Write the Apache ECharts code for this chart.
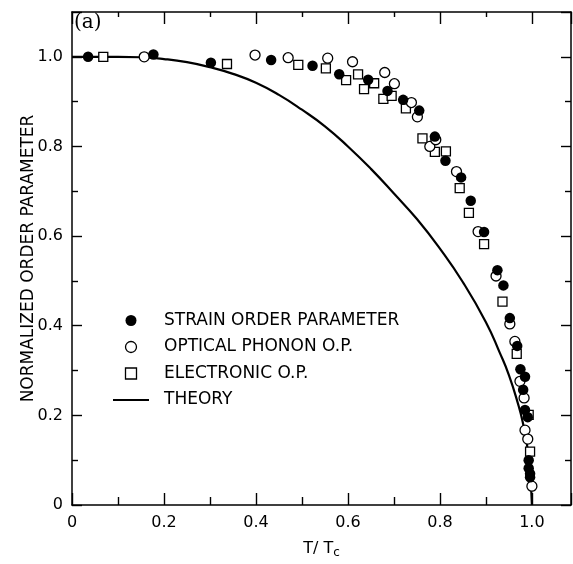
<!DOCTYPE html>
<html>
<head>
<meta charset="utf-8">
<script src="https://cdn.jsdelivr.net/npm/echarts@6/dist/echarts.min.js"></script>
<style>
html,body{margin:0;padding:0;background:#fff;}
#chart{width:573px;height:564px;}
</style>
</head>
<body>
<div id="chart"></div>
<script>
// ---- data ----
var xTickLabels = ['0', '0.2', '0.4', '0.6', '0.8', '1.0'];
var yTickLabels = ['0', '0.2', '0.4', '0.6', '0.8', '1.0'];

var strainX = [0.035, 0.177, 0.302, 0.433, 0.523, 0.581, 0.644, 0.686, 0.720, 0.755, 0.789, 0.812, 0.846, 0.867, 0.896, 0.925, 0.938, 0.952, 0.968, 0.975, 0.985, 0.981, 0.985, 0.991, 0.993, 0.993, 0.996, 0.996];
var strainY = [1.000, 1.005, 0.987, 0.993, 0.980, 0.961, 0.949, 0.924, 0.904, 0.880, 0.822, 0.768, 0.731, 0.679, 0.609, 0.524, 0.490, 0.417, 0.355, 0.303, 0.286, 0.257, 0.212, 0.196, 0.100, 0.082, 0.062, 0.070];

var phononX = [0.157, 0.398, 0.470, 0.556, 0.610, 0.680, 0.701, 0.738, 0.751, 0.778, 0.791, 0.836, 0.883, 0.922, 0.952, 0.963, 0.974, 0.983, 0.985, 0.991, 1.000];
var phononY = [1.000, 1.004, 0.998, 0.997, 0.989, 0.965, 0.940, 0.898, 0.866, 0.800, 0.815, 0.744, 0.610, 0.511, 0.404, 0.365, 0.276, 0.239, 0.167, 0.147, 0.042];

var electronicX = [0.068, 0.337, 0.492, 0.552, 0.596, 0.622, 0.635, 0.657, 0.677, 0.695, 0.726, 0.762, 0.789, 0.813, 0.843, 0.863, 0.896, 0.936, 0.967, 0.993, 0.996];
var electronicY = [1.000, 0.984, 0.982, 0.974, 0.948, 0.961, 0.928, 0.941, 0.906, 0.913, 0.885, 0.818, 0.788, 0.789, 0.707, 0.652, 0.582, 0.454, 0.337, 0.201, 0.119];

var theoryX = [0, 0.10, 0.15, 0.20, 0.25, 0.30, 0.35, 0.40, 0.45, 0.50, 0.55, 0.60, 0.65, 0.70, 0.75, 0.80, 0.85, 0.90, 0.93, 0.95, 0.97, 0.98, 0.99, 0.995, 1.0];
var theoryY = [1.0, 1.0, 0.999, 0.995, 0.988, 0.977, 0.962, 0.942, 0.915, 0.882, 0.845, 0.800, 0.750, 0.695, 0.638, 0.572, 0.497, 0.408, 0.340, 0.290, 0.225, 0.185, 0.130, 0.092, 0.0];

var seriesNames = ['STRAIN ORDER PARAMETER', 'OPTICAL PHONON O.P.', 'ELECTRONIC O.P.', 'THEORY'];

function pairs(xs, ys) { return xs.map(function (x, i) { return [x, ys[i]]; }); }

var FONT = 'DejaVu Sans';
var SQUARE = 'path://M0,0H10V10H0Z';
var chart = echarts.init(document.getElementById('chart'));

function baseX(pos, showLabels) {
  return {
    type: 'value', position: pos, min: 0, max: 1.085, interval: 0.2,
    axisLine: { show: true, onZero: false, lineStyle: { color: '#000', width: 1.5 } },
    axisTick: { show: true, inside: true, length: 12, lineStyle: { color: '#000', width: 1.4 } },
    minorTick: { show: true, splitNumber: 2, length: pos === 'top' ? 5 : 8, lineStyle: { color: '#000', width: 1.4 } },
    splitLine: { show: false },
    axisLabel: {
      show: showLabels, margin: 10, color: '#000', fontFamily: FONT, fontSize: 16,
      formatter: function (v) { var i = Math.round(v / 0.2); return (Math.abs(v - i * 0.2) < 1e-6 && xTickLabels[i] !== undefined) ? xTickLabels[i] : ''; },
      showMaxLabel: false
    }
  };
}
function baseY(pos, showLabels) {
  return {
    type: 'value', position: pos, min: 0, max: 1.1, interval: 0.2,
    axisLine: { show: true, onZero: false, lineStyle: { color: '#000', width: 1.5 } },
    axisTick: { show: true, inside: true, length: 10, lineStyle: { color: '#000', width: 1.4 } },
    minorTick: { show: true, splitNumber: 2, length: 6, lineStyle: { color: '#000', width: 1.4 } },
    splitLine: { show: false },
    axisLabel: {
      show: showLabels, margin: 9, color: '#000', fontFamily: FONT, fontSize: 16,
      formatter: function (v) { var i = Math.round(v / 0.2); return (Math.abs(v - i * 0.2) < 1e-6 && yTickLabels[i] !== undefined) ? yTickLabels[i] : ''; },
      showMaxLabel: false
    }
  };
}

var xBottom = baseX('bottom', true);
xBottom.name = 'T/ T{sub|c}';
xBottom.nameLocation = 'middle';
xBottom.nameGap = 34;
xBottom.nameMoveOverlap = false;
xBottom.nameTextStyle = { color: '#000', fontFamily: FONT, fontSize: 16, rich: { sub: { fontFamily: FONT, fontSize: 12, verticalAlign: 'bottom', padding: [8, 0, 0, 0], color: '#000' } } };
var xTop = baseX('top', false);

var yLeft = baseY('left', true);
yLeft.name = 'NORMALIZED ORDER PARAMETER';
yLeft.nameLocation = 'middle';
yLeft.nameGap = 35;
yLeft.nameRotate = 90;
yLeft.nameMoveOverlap = false;
yLeft.nameTextStyle = { color: '#000', fontFamily: FONT, fontSize: 17 };
var yRight = baseY('right', false);

var option = {
  backgroundColor: '#fff',
  animation: false,
  title: { text: '(a)', left: 74, top: 13, padding: 0, textStyle: { fontFamily: 'DejaVu Serif', fontSize: 20, fontWeight: 'normal', color: '#000' } },
  grid: { left: 72, right: 2, top: 12, bottom: 59, containLabel: false, outerBoundsMode: 'none' },
  xAxis: [xBottom, xTop],
  yAxis: [yLeft, yRight],
  legend: {
    orient: 'vertical', left: 112, top: 312, padding: 0,
    itemWidth: 36, itemHeight: 11, itemGap: 9.5,
    symbolKeepAspect: true,
    textStyle: { fontFamily: FONT, fontSize: 17, color: '#000', padding: [0, 0, 0, 10] },
    data: [
      { name: seriesNames[0] },
      { name: seriesNames[1], itemStyle: { color: '#fff', borderColor: '#000', borderWidth: 1.3 } },
      { name: seriesNames[2], icon: SQUARE, itemStyle: { color: '#fff', borderColor: '#000', borderWidth: 1.3 } },
      { name: seriesNames[3], itemStyle: { color: 'rgba(0,0,0,0)', borderWidth: 0, opacity: 0 } }
    ],
    selectedMode: false
  },
  series: [
    {
      name: seriesNames[3], type: 'line', xAxisIndex: 0, yAxisIndex: 0,
      data: pairs(theoryX, theoryY), symbol: 'none', smooth: 0.5,
      lineStyle: { color: '#000', width: 2.2 }, itemStyle: { color: '#000' }, z: 1
    },
    {
      name: seriesNames[2], type: 'scatter', data: pairs(electronicX, electronicY),
      symbol: SQUARE, symbolSize: 9, symbolKeepAspect: true,
      itemStyle: { color: '#fff', borderColor: '#000', borderWidth: 1.3, opacity: 1 }, z: 3
    },
    {
      name: seriesNames[1], type: 'scatter', data: pairs(phononX, phononY),
      symbol: 'circle', symbolSize: 10,
      itemStyle: { color: '#fff', borderColor: '#000', borderWidth: 1.3, opacity: 1 }, z: 3
    },
    {
      name: seriesNames[0], type: 'scatter', data: pairs(strainX, strainY),
      symbol: 'circle', symbolSize: 10.5,
      itemStyle: { color: '#000', opacity: 1 }, z: 4
    }
  ]
};
chart.setOption(option);
</script>
</body>
</html>
